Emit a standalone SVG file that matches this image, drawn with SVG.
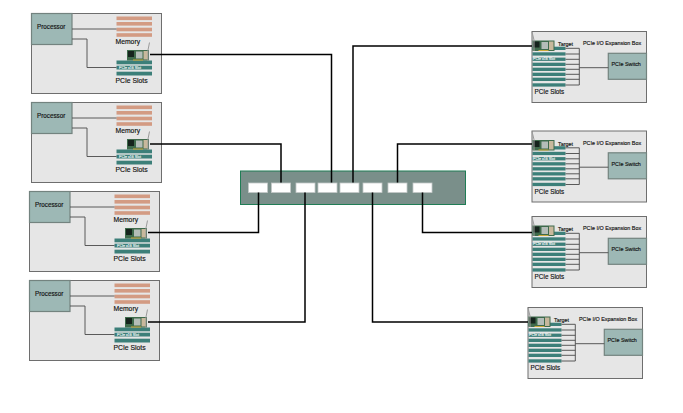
<svg xmlns="http://www.w3.org/2000/svg" xmlns:xlink="http://www.w3.org/1999/xlink" width="683" height="413" viewBox="0 0 683 413">
<style>
text{font-family:"Liberation Sans",Arial,sans-serif;fill:#111;stroke:#111;stroke-width:.15}
.box{fill:#e6e6e6;stroke:#6e6e6e;stroke-width:1}
.teal{fill:#9db8b5;stroke:#73837f;stroke-width:1.2}
.mem{fill:#d39b83}
.slot{fill:#3c7f79}
.thin{fill:none;stroke:#4a4a4a;stroke-width:.9}
.wire{fill:none;stroke:#000;stroke-width:1.5}
.port{fill:#fff;stroke:#c4c9c8;stroke-width:.8}
.l7{font-size:6.8px}
.l6{font-size:6.3px}
.l5{font-size:5.4px}
.tiny{font-size:3.6px;fill:#fff;stroke:#fff;stroke-width:.1}
</style>
<defs>
<g id="card">
<rect x="0" y="0" width="22" height="10.500" fill="#3f6b4c"/>
<rect x="1" y="1" width="6" height="6" fill="#16241d"/>
<rect x="9" y="1.500" width="6.500" height="7" fill="#b4bdb8"/>
<rect x="16.500" y="1" width="4.500" height="8.500" fill="#c8b89c"/>
<rect x="6" y="9.500" width="10" height="1" fill="#c9a93a"/>
</g>
<g id="memBars">
<rect class="mem" x="116.500" y="16.500" width="35.500" height="3.600"/>
<rect class="mem" x="116.500" y="22" width="35.500" height="3.600"/>
<rect class="mem" x="116.500" y="27.700" width="35.500" height="3.600"/>
<rect class="mem" x="116.500" y="33.200" width="35.500" height="3.600"/>
<rect class="slot" x="116.500" y="60.500" width="35.500" height="3.800"/>
<rect class="slot" x="116.500" y="65.700" width="35.500" height="3.800"/>
<rect class="slot" x="116.500" y="71.700" width="35.500" height="3.800"/>
<path class="thin" d="M72 29H116.500M72 39H87V67.500H116.500"/>
<use href="#card" x="127" y="50"/>
<path d="M148 61V50L149.500 42.500" fill="none" stroke="#9a9a9a" stroke-width="1"/>
</g>
<g id="boxBars">
<rect class="slot" x="532.500" y="46.700" width="33" height="3.300"/>
<rect class="slot" x="532.500" y="52.300" width="33" height="3.300"/>
<rect class="slot" x="532.500" y="57.600" width="33" height="3.300"/>
<rect class="slot" x="532.500" y="62.700" width="33" height="3.300"/>
<rect class="slot" x="532.500" y="67.700" width="33" height="3.300"/>
<rect class="slot" x="532.500" y="72.700" width="33" height="3.300"/>
<rect class="slot" x="532.500" y="77.700" width="33" height="3.300"/>
<rect class="slot" x="532.500" y="83.300" width="33" height="3.300"/>
<path class="thin" d="M565.500 48.300H579.300V85H565.500M565.500 54H579.300M565.500 59.300H579.300M565.500 64.300H579.300M565.500 69.300H579.300M565.500 74.300H579.300M565.500 79.300H579.300M579.300 67.700H608.300"/>
<use href="#card" x="532.500" y="40.500"/>
<path d="M534 51V40L532 32" fill="none" stroke="#9a9a9a" stroke-width="1"/>
</g>
</defs>

<g id="switch">
<rect x="240.500" y="171" width="225" height="33.500" fill="#7a8f8a" stroke="#1f7d55" stroke-width="1"/>
<rect class="port" x="248.500" y="183" width="19" height="9.500"/>
<rect class="port" x="271.500" y="183" width="19" height="9.500"/>
<rect class="port" x="296" y="183" width="19" height="9.500"/>
<rect class="port" x="318" y="183" width="19" height="9.500"/>
<rect class="port" x="340" y="183" width="19" height="9.500"/>
<rect class="port" x="363" y="183" width="19" height="9.500"/>
<rect class="port" x="388" y="183" width="19" height="9.500"/>
<rect class="port" x="413" y="183" width="19" height="9.500"/>
</g>

<g id="server1">
<rect class="box" x="31.500" y="13.500" width="130" height="80"/>
<rect class="teal" x="31.500" y="13.500" width="40.500" height="31"/>
<use href="#memBars"/>
<text class="l6" x="37" y="28.500">Processor</text>
<text class="l7" x="115.500" y="44">Memory</text>
<text class="tiny" x="119" y="69">PCIe x16 Slot</text>
<text class="l7" x="115.500" y="83">PCIe Slots</text>
</g>
<g id="server2" transform="translate(0 89)">
<rect class="box" x="31.500" y="13.500" width="130" height="80"/>
<rect class="teal" x="31.500" y="13.500" width="40.500" height="31"/>
<use href="#memBars"/>
<text class="l6" x="37" y="28.500">Processor</text>
<text class="l7" x="115.500" y="44">Memory</text>
<text class="tiny" x="119" y="69">PCIe x16 Slot</text>
<text class="l7" x="115.500" y="83">PCIe Slots</text>
</g>
<g id="server3" transform="translate(-2 178)">
<rect class="box" x="31.500" y="13.500" width="130" height="80"/>
<rect class="teal" x="31.500" y="13.500" width="40.500" height="31"/>
<use href="#memBars"/>
<text class="l6" x="37" y="28.500">Processor</text>
<text class="l7" x="115.500" y="44">Memory</text>
<text class="tiny" x="119" y="69">PCIe x16 Slot</text>
<text class="l7" x="115.500" y="83">PCIe Slots</text>
</g>
<g id="server4" transform="translate(-2 267)">
<rect class="box" x="31.500" y="13.500" width="130" height="80"/>
<rect class="teal" x="31.500" y="13.500" width="40.500" height="31"/>
<use href="#memBars"/>
<text class="l6" x="37" y="28.500">Processor</text>
<text class="l7" x="115.500" y="44">Memory</text>
<text class="tiny" x="119" y="69">PCIe x16 Slot</text>
<text class="l7" x="115.500" y="83">PCIe Slots</text>
</g>

<g id="expansion1">
<rect class="box" x="532" y="31.500" width="114.500" height="71"/>
<rect class="teal" x="608.300" y="53.300" width="38.200" height="26"/>
<use href="#boxBars"/>
<text class="l5" x="558" y="46">Target</text>
<text class="l5" x="583" y="45">PCIe I/O Expansion Box</text>
<text class="l5" x="611.500" y="66">PCIe Switch</text>
<text class="tiny" x="533" y="60">PCIe x16 Slot</text>
<text class="l6" x="534.500" y="94">PCIe Slots</text>
</g>
<g id="expansion2" transform="translate(0 99.500)">
<rect class="box" x="532" y="31.500" width="114.500" height="71"/>
<rect class="teal" x="608.300" y="53.300" width="38.200" height="26"/>
<use href="#boxBars"/>
<text class="l5" x="558" y="46">Target</text>
<text class="l5" x="583" y="45">PCIe I/O Expansion Box</text>
<text class="l5" x="611.500" y="66">PCIe Switch</text>
<text class="tiny" x="533" y="60">PCIe x16 Slot</text>
<text class="l6" x="534.500" y="94">PCIe Slots</text>
</g>
<g id="expansion3" transform="translate(0 185)">
<rect class="box" x="532" y="31.500" width="114.500" height="71"/>
<rect class="teal" x="608.300" y="53.300" width="38.200" height="26"/>
<use href="#boxBars"/>
<text class="l5" x="558" y="46">Target</text>
<text class="l5" x="583" y="45">PCIe I/O Expansion Box</text>
<text class="l5" x="611.500" y="66">PCIe Switch</text>
<text class="tiny" x="533" y="60">PCIe x16 Slot</text>
<text class="l6" x="534.500" y="94">PCIe Slots</text>
</g>
<g id="expansion4" transform="translate(-4 276)">
<rect class="box" x="532" y="31.500" width="114.500" height="71"/>
<rect class="teal" x="608.300" y="53.300" width="38.200" height="26"/>
<use href="#boxBars"/>
<text class="l5" x="558" y="46">Target</text>
<text class="l5" x="583" y="45">PCIe I/O Expansion Box</text>
<text class="l5" x="611.500" y="66">PCIe Switch</text>
<text class="tiny" x="533" y="60">PCIe x16 Slot</text>
<text class="l6" x="534.500" y="94">PCIe Slots</text>
</g>

<g id="connectors">
<path class="wire" d="M150 54.500H331.500V182.500"/>
<path class="wire" d="M150 144H281V182.500"/>
<path class="wire" d="M148 232.500H258.500V192.500"/>
<path class="wire" d="M148 322H305V192.500"/>
<path class="wire" d="M532 46H353V182.500"/>
<path class="wire" d="M532 144H397.500V182.500"/>
<path class="wire" d="M532 232.500H422.500V192.500"/>
<path class="wire" d="M528 322H372.500V192.500"/>
</g>
</svg>
